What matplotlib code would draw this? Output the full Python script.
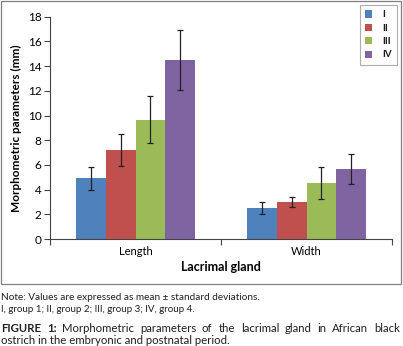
import matplotlib
matplotlib.use("Agg")
import matplotlib.pyplot as plt
from matplotlib.patches import Rectangle
import numpy as np

# data
categories = ["Length", "Width"]
groups = ["I", "II", "III", "IV"]
means = {
    "I": [4.9, 2.5],
    "II": [7.2, 3.0],
    "III": [9.65, 4.5],
    "IV": [14.5, 5.65],
}
sds = {
    "I": [0.9, 0.5],
    "II": [1.3, 0.4],
    "III": [1.9, 1.3],
    "IV": [2.4, 1.2],
}
colors = ["#4F81BD", "#C0504D", "#9BBB59", "#8064A2"]
y_ticks = [0, 2, 4, 6, 8, 10, 12, 14, 16, 18]

plt.rcParams['font.family'] = ['Lato', 'DejaVu Sans']
plt.rcParams['text.color'] = '#231f20'

W, H = 403, 346
fig = plt.figure(figsize=(W / 100, H / 100), dpi=100)

# outer chart frame
fig.patches.append(Rectangle((1 / W, 1 - 284 / H), 400 / W, 283 / H,
                             transform=fig.transFigure, fill=False,
                             edgecolor="#7f7f7f", linewidth=0.9))

ax = fig.add_axes([50 / W, 1 - 239 / H, 342 / W, 222.3 / H])

x = np.arange(len(categories))
bw = 0.173
for i, g in enumerate(groups):
    off = (i - 1.5) * bw
    ax.bar(x + off, means[g], bw, color=colors[i], label=g, zorder=2)
    ax.errorbar(x + off, means[g], yerr=sds[g], fmt="none", ecolor="#222222",
                elinewidth=0.9, capsize=2.2, capthick=0.9, zorder=3)

ax.set_xlim(-0.5, 1.5)
ax.set_ylim(0, 18)
ax.set_yticks(y_ticks)
ax.set_xticks(x)
ax.set_xticklabels(categories, fontsize=8)
ax.tick_params(axis="y", labelsize=8.5, length=4, width=0.8, color="#444444", pad=2)
ax.tick_params(axis="x", length=0, pad=5)
# category boundary ticks
ax.set_xticks([-0.5, 0.5, 1.5], minor=True)
ax.tick_params(axis="x", which="minor", length=4, width=0.8, color="#444444")

for s in ["top", "right"]:
    ax.spines[s].set_visible(False)
for s in ["left", "bottom"]:
    ax.spines[s].set_color("#444444")
    ax.spines[s].set_linewidth(0.8)

ax.set_ylabel("Morphometric parameters (mm)", fontsize=8.5, fontweight="bold", labelpad=4)
ax.set_xlabel("Lacrimal gland", fontsize=9, fontweight="bold", labelpad=3)

leg = ax.legend(loc="upper right", bbox_to_anchor=(397 / W, 1 - 5 / H),
                bbox_transform=fig.transFigure, fontsize=7, frameon=True,
                fancybox=False, edgecolor="#999999", handlelength=0.75,
                handleheight=0.75, handletextpad=1.0, labelspacing=0.45,
                borderpad=0.55, borderaxespad=0)
leg.get_frame().set_linewidth(0.8)
for t in leg.get_texts():
    t.set_fontweight("bold")

# notes
fig.text(1 / W, 1 - 297 / H, "Note: Values are expressed as mean \u00b1 standard deviations.",
         fontsize=7.2, va="center", ha="left")
fig.text(1 / W, 1 - 310 / H, "I, group 1; II, group 2; III, group 3; IV, group 4.",
         fontsize=7.0, va="center", ha="left")


def justify(words, y, size, left=1, right=400, bold_first=0):
    # place words so the line spans from left to right pixel
    renderer = fig.canvas.get_renderer()
    objs = []
    for k, w in enumerate(words):
        wt = "bold" if k < bold_first else "normal"
        objs.append(fig.text(0, 1 - y / H, w, fontsize=size, fontweight=wt,
                             va="center", ha="left"))
    widths = [o.get_window_extent(renderer).width for o in objs]
    gap = (right - left - sum(widths)) / (len(words) - 1)
    pos = left
    for o, wd in zip(objs, widths):
        o.set_x(pos / W)
        pos += wd + gap


justify(["FIGURE", "1:", "Morphometric", "parameters", "of", "the", "lacrimal",
         "gland", "in", "African", "black"], 328, 8.2, bold_first=2)
fig.text(1 / W, 1 - 341 / H, "ostrich in the embryonic and postnatal period.",
         fontsize=8.2, va="center", ha="left")

fig.savefig("out.png", dpi=100)
